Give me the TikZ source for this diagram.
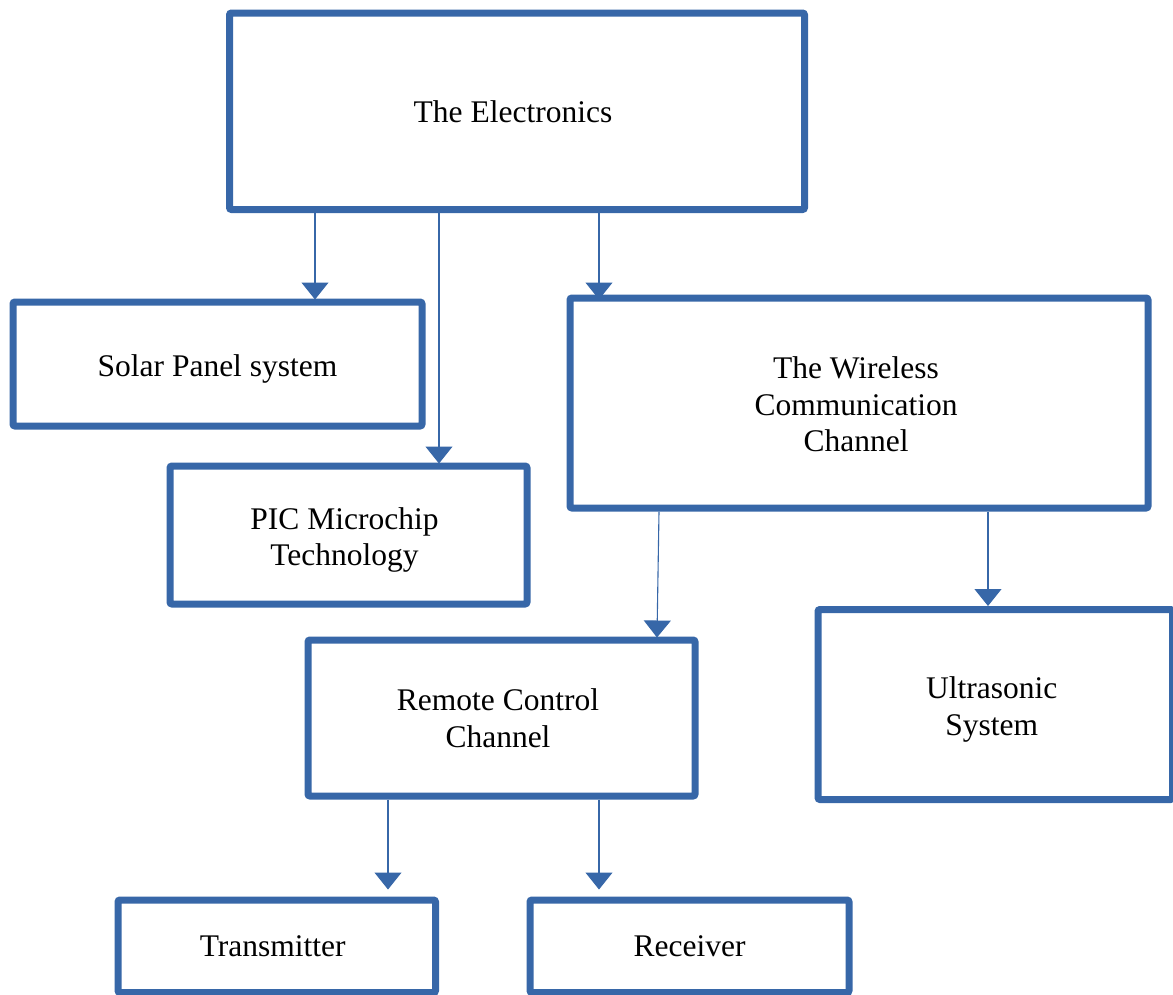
\documentclass[tikz,border=0pt]{standalone}
\usepackage{fontspec}
\setmainfont{Liberation Serif}
\usetikzlibrary{arrows.meta}
\definecolor{boxblue}{RGB}{55,103,168}
\begin{document}
\begin{tikzpicture}[x=1pt,y=-1pt,
  box/.style={draw=boxblue,line width=7pt,rounded corners=2pt,rectangle,inner sep=0pt},
  txt/.style={inner sep=0pt,align=center,font=\fontsize{31.5}{36.5}\selectfont},
  arr/.style={draw=boxblue,line width=1.1pt,-{Triangle[width=27pt,length=17pt]}}]
\useasboundingbox (0,0) rectangle (1173,994);
\node[box,minimum width=575pt,minimum height=196.5pt] (elec) at (517,111.25) {};
\node[box,minimum width=409pt,minimum height=124pt] (solar) at (217.5,364) {};
\node[box,minimum width=357pt,minimum height=138pt] (pic) at (348.5,535) {};
\node[box,minimum width=578pt,minimum height=210pt] (wire) at (859,403) {};
\node[box,minimum width=387pt,minimum height=156pt] (remote) at (501.5,718) {};
\node[box,minimum width=354.5pt,minimum height=190pt] (ultra) at (995.25,704.5) {};
\node[box,minimum width=317.5pt,minimum height=92.5pt] (trans) at (276.75,946.25) {};
\node[box,minimum width=319pt,minimum height=92.5pt] (recv) at (689.5,946.25) {};
\node[txt] (elect) at ([xshift=-4pt]elec.center) {The Electronics};
\node[txt] (solart) at ([yshift=-5pt]solar.center) {Solar Panel system};
\node[txt] (pict) at ([xshift=-4pt,yshift=-5pt]pic.center) {PIC Microchip\\Technology};
\node[txt] (wiret) at ([xshift=-3pt,yshift=-1.5pt]wire.center) {The Wireless\\Communication\\Channel};
\node[txt] (remotet) at ([xshift=-3.5pt]remote.center) {Remote Control\\Channel};
\node[txt] (ultrat) at ([xshift=-3.5pt,yshift=-5pt]ultra.center) {Ultrasonic\\System};
\node[txt] (transt) at ([xshift=-4pt]trans.center) {Transmitter};
\node[txt] (recvt) at (recv.center) {Receiver};
\draw[arr,shorten >=-1pt] (elec.south -| 315,0) -- (solar.north -| 315,0);
\draw[arr,shorten >=-1pt] (elec.south -| 439,0) -- (pic.north -| 439,0);
\draw[arr,shorten >=-5pt] (elec.south -| 599,0) -- (wire.north -| 599,0);
\draw[arr,shorten >=-1pt] (wire.south -| 659,0) -- (remote.north -| 657,0);
\draw[arr] (wire.south -| 988,0) -- (ultra.north -| 988,0);
\draw[arr,shorten >=7pt] (remote.south -| 388,0) -- (trans.north -| 388,0);
\draw[arr,shorten >=7pt] (remote.south -| 599,0) -- (recv.north -| 599,0);
\end{tikzpicture}
\end{document}
